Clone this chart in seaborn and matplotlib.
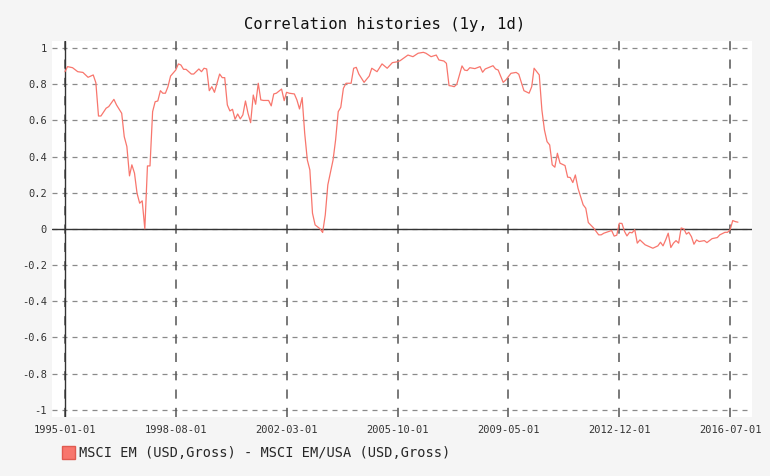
import pandas as pd
import seaborn as sns
import matplotlib.pyplot as plt
import matplotlib.patches as mpatches

# monthly correlation readings
months = [
    "1995-01", "1995-02", "1995-04", "1995-06", "1995-08", "1995-10", "1995-12",
    "1996-01", "1996-02", "1996-03", "1996-05", "1996-06", "1996-08", "1996-09",
    "1996-11", "1996-12", "1997-01", "1997-02", "1997-03", "1997-04", "1997-05",
    "1997-06", "1997-07", "1997-08", "1997-09", "1997-10", "1997-11", "1997-12",
    "1998-01", "1998-02", "1998-03", "1998-04", "1998-05", "1998-06", "1998-08",
    "1998-09", "1998-10", "1998-11", "1998-12", "1999-02", "1999-03", "1999-05",
    "1999-06", "1999-07", "1999-08", "1999-09", "1999-10", "1999-11", "2000-01",
    "2000-02", "2000-03", "2000-04", "2000-05", "2000-06", "2000-07", "2000-08",
    "2000-09", "2000-10", "2000-11", "2000-12", "2001-01", "2001-02", "2001-03",
    "2001-04", "2001-05", "2001-06", "2001-08", "2001-09", "2001-10", "2001-11",
    "2002-01", "2002-02", "2002-03", "2002-04", "2002-06", "2002-07", "2002-08",
    "2002-09", "2002-10", "2002-11", "2002-12", "2003-01", "2003-02", "2003-04",
    "2003-05", "2003-06", "2003-07", "2003-09", "2003-10", "2003-11", "2003-12",
    "2004-01", "2004-02", "2004-04", "2004-05", "2004-06", "2004-07", "2004-09",
    "2004-11", "2004-12", "2005-02", "2005-04", "2005-06", "2005-08", "2005-10",
    "2005-11", "2005-12", "2006-02", "2006-04", "2006-06", "2006-08", "2006-09",
    "2006-11", "2007-01", "2007-02", "2007-04", "2007-05", "2007-06", "2007-07",
    "2007-08", "2007-09", "2007-11", "2007-12", "2008-01", "2008-02", "2008-04",
    "2008-06", "2008-07", "2008-08", "2008-11", "2008-12", "2009-01", "2009-03",
    "2009-04", "2009-06", "2009-08", "2009-09", "2009-11", "2010-01", "2010-02",
    "2010-03", "2010-05", "2010-06", "2010-07", "2010-08", "2010-09", "2010-10",
    "2010-11", "2010-12", "2011-01", "2011-03", "2011-04", "2011-05", "2011-06",
    "2011-07", "2011-08", "2011-10", "2011-11", "2011-12", "2012-02", "2012-04",
    "2012-05", "2012-06", "2012-09", "2012-10", "2012-11", "2012-12", "2013-01",
    "2013-02", "2013-03", "2013-04", "2013-05", "2013-06", "2013-07", "2013-08",
    "2013-10", "2014-01", "2014-03", "2014-04", "2014-05", "2014-06", "2014-07",
    "2014-08", "2014-09", "2014-10", "2014-11", "2014-12", "2015-01", "2015-02",
    "2015-03", "2015-04", "2015-05", "2015-06", "2015-07", "2015-09", "2015-10",
    "2015-12", "2016-02", "2016-03", "2016-05", "2016-06", "2016-07", "2016-08",
    "2016-09", "2016-10",
]
correlation = [
    0.869, 0.897, 0.891, 0.869, 0.865, 0.838, 0.851,
    0.808, 0.624, 0.624, 0.667, 0.676, 0.716, 0.685,
    0.639, 0.510, 0.455, 0.293, 0.354, 0.308, 0.197,
    0.142, 0.155, 0.000, 0.348, 0.348, 0.648, 0.703,
    0.707, 0.764, 0.750, 0.750, 0.786, 0.845, 0.878,
    0.912, 0.906, 0.882, 0.882, 0.856, 0.856, 0.884,
    0.869, 0.888, 0.884, 0.764, 0.786, 0.755, 0.856,
    0.836, 0.836, 0.685, 0.652, 0.661, 0.606, 0.635,
    0.608, 0.630, 0.707, 0.639, 0.587, 0.740, 0.689,
    0.805, 0.713, 0.710, 0.710, 0.680, 0.746, 0.750,
    0.773, 0.709, 0.755, 0.750, 0.746, 0.713, 0.663,
    0.726, 0.529, 0.381, 0.326, 0.087, 0.022, 0.000,
    -0.020, 0.077, 0.243, 0.381, 0.492, 0.648, 0.672,
    0.777, 0.805, 0.805, 0.888, 0.893, 0.856, 0.810,
    0.845, 0.888, 0.869, 0.912, 0.888, 0.919, 0.924,
    0.930, 0.940, 0.961, 0.952, 0.971, 0.976, 0.971,
    0.952, 0.961, 0.934, 0.928, 0.915, 0.792, 0.790,
    0.786, 0.800, 0.901, 0.878, 0.875, 0.891, 0.886,
    0.897, 0.866, 0.884, 0.902, 0.884, 0.878, 0.810,
    0.823, 0.860, 0.865, 0.855, 0.764, 0.750, 0.786,
    0.888, 0.851, 0.657, 0.547, 0.482, 0.464, 0.354,
    0.341, 0.418, 0.363, 0.350, 0.286, 0.284, 0.256,
    0.298, 0.225, 0.133, 0.114, 0.035, 0.005, -0.033,
    -0.033, -0.024, -0.009, -0.040, -0.035, 0.031, 0.030,
    -0.015, -0.039, -0.019, -0.022, -0.004, -0.079, -0.061,
    -0.088, -0.107, -0.094, -0.074, -0.094, -0.061, -0.024,
    -0.103, -0.079, -0.065, -0.079, 0.005, 0.000, -0.029,
    -0.019, -0.043, -0.085, -0.061, -0.070, -0.065, -0.076,
    -0.054, -0.048, -0.033, -0.019, -0.019, -0.004, 0.046,
    0.040, 0.037,
]
tick_dates = ["1995-01-01", "1998-08-01", "2002-03-01", "2005-10-01",
              "2009-05-01", "2012-12-01", "2016-07-01"]
y_ticks = [-1, -0.8, -0.6, -0.4, -0.2, 0, 0.2, 0.4, 0.6, 0.8, 1]
series_name = "MSCI EM (USD,Gross) - MSCI EM/USA (USD,Gross)"

df = pd.DataFrame({"date": pd.to_datetime(months), "corr": correlation})

sns.set_theme(style="white")
plt.rcParams["font.family"] = ["DejaVu Sans Mono"]
plt.rcParams["axes.unicode_minus"] = False

line_color = "#f8766d"
fig = plt.figure(figsize=(7.7, 4.76), dpi=100, facecolor="#f5f5f5")
ax = fig.add_axes([0.0675, 0.124, 0.909, 0.79])
ax.set_facecolor("white")

sns.lineplot(data=df, x="date", y="corr", ax=ax, color=line_color,
             linewidth=0.9, legend=False)

# grid
for v in y_ticks:
    ax.axhline(v, color="#8a8a8a", linestyle=(0, (4, 4)), linewidth=0.9, zorder=0)
for d in pd.to_datetime(tick_dates):
    ax.axvline(d, color="#555555", linestyle=(0, (6, 6)), linewidth=1.1, zorder=0)
ax.axhline(0, color="#333333", linewidth=1.0, zorder=1)
ax.axvline(pd.Timestamp(tick_dates[0]), color="#333333", linewidth=1.0, zorder=1)

ax.set_xlim(pd.Timestamp("1994-08-01"), pd.Timestamp("2017-03-15"))
ax.set_ylim(-1.04, 1.039)
ax.set_xticks(pd.to_datetime(tick_dates))
ax.set_xticklabels(tick_dates, fontsize=7.5, color="#333333")
ax.set_yticks(y_ticks)
ax.set_yticklabels([f"{v:g}" for v in y_ticks], fontsize=7.5, color="#333333")
ax.tick_params(axis="x", length=0, pad=6)
ax.tick_params(axis="y", length=0, pad=3.5)
ax.set_xlabel("")
ax.set_ylabel("")
for s in ax.spines.values():
    s.set_visible(False)

fig.suptitle("Correlation histories (1y, 1d)", fontsize=11.2, y=0.965, color="#111111")

handle = mpatches.Patch(facecolor=line_color, edgecolor="#e05a50", label=series_name)
fig.legend(handles=[handle], loc="center left", bbox_to_anchor=(0.065, 0.048),
           frameon=False, fontsize=9.8, handlelength=0.9, handleheight=1.1,
           handletextpad=0.3)

fig.savefig("out.png", dpi=100, facecolor=fig.get_facecolor())
